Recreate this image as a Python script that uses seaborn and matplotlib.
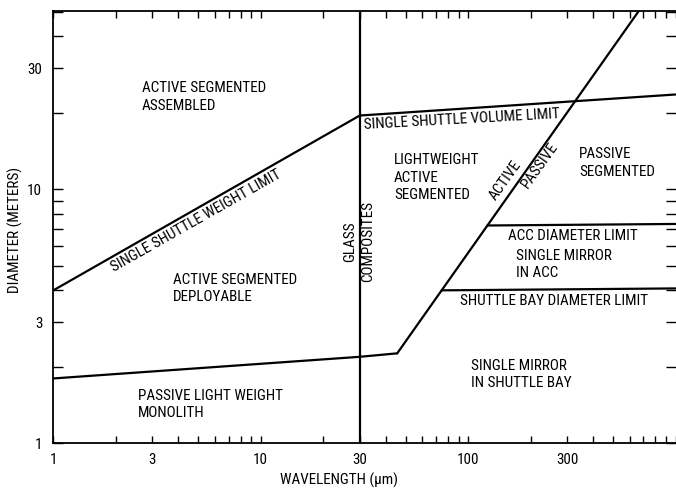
import matplotlib
matplotlib.use("Agg")
import matplotlib.pyplot as plt
import matplotlib.ticker as mticker
from matplotlib import font_manager as fm
import numpy as np
import pandas as pd
import seaborn as sns

# Boundary lines of the mirror-technology regions (wavelength in um, diameter in m)
weight_limit_x = [1, 30]
weight_limit_y = [4.0, 19.5]

volume_limit_x = [30, 1000]
volume_limit_y = [19.5, 23.6]

glass_composites_x = [30, 30]
glass_composites_y = [1, 50.3]

monolith_limit_x = [1, 30, 45.5]
monolith_limit_y = [1.8, 2.19, 2.26]

active_passive_x = [45.5, 690]
active_passive_y = [2.26, 52.5]

acc_limit_x = [124, 1000]
acc_limit_y = [7.2, 7.3]

bay_limit_x = [74.5, 1000]
bay_limit_y = [4.0, 4.07]

x_tick_values = [1, 3, 10, 30, 100, 300]
x_tick_labels = ["1", "3", "10", "30", "100", "300"]
y_tick_values = [1, 3, 10, 30]
y_tick_labels = ["1", "3", "10", "30"]


def pick_font():
    """Prefer a narrow sans face; fall back to a regular one."""
    names = {f.name for f in fm.fontManager.ttflist}
    for cand in ["Liberation Sans Narrow", "Noto Sans Condensed", "Roboto Condensed",
                 "DejaVu Sans Condensed", "Open Sans Condensed"]:
        if cand in names:
            return {"family": cand}
    for fam in ["DejaVu Sans", "Noto Sans", "Open Sans", "Roboto"]:
        path = fm.findfont(fm.FontProperties(family=fam, stretch="condensed"),
                           fallback_to_default=False)
        if "ondensed" in path or "arrow" in path:
            return {"family": fam, "stretch": "condensed"}
    return {"family": "Roboto"}


sns.set_style("ticks")
font = pick_font()
plt.rcParams["font.family"] = [font["family"], "DejaVu Sans"]
if "stretch" in font:
    plt.rcParams["font.stretch"] = font["stretch"]
for key in ["text.color", "axes.labelcolor", "xtick.color", "ytick.color", "axes.edgecolor"]:
    plt.rcParams[key] = "black"

fig = plt.figure(figsize=(6.76, 4.93), dpi=100)
ax = fig.add_axes([0.0789, 0.1008, 0.9204, 0.8769])

# size the lettering so a typical caption has the intended width
probe = fig.text(0, 0, "ACTIVE SEGMENTED", fontsize=10)
fig.canvas.draw()
probe_w = probe.get_window_extent().width
probe.remove()
fs = min(11.0, 10 * 125 / probe_w)

segments = [
    ("weight", weight_limit_x, weight_limit_y),
    ("volume", volume_limit_x, volume_limit_y),
    ("glass", glass_composites_x, glass_composites_y),
    ("monolith", monolith_limit_x, monolith_limit_y),
    ("active_passive", active_passive_x, active_passive_y),
    ("acc", acc_limit_x, acc_limit_y),
    ("bay", bay_limit_x, bay_limit_y),
]
frames = []
for name, xs, ys in segments:
    frames.append(pd.DataFrame({"boundary": name, "wavelength": xs, "diameter": ys}))
df = pd.concat(frames, ignore_index=True)

for name, sub in df.groupby("boundary", sort=False):
    sns.lineplot(data=sub, x="wavelength", y="diameter", sort=False, estimator=None,
                 color="black", linewidth=1.6, ax=ax, legend=False)

ax.set_xscale("log")
ax.set_yscale("log")
ax.set_xlim(1, 1000)
ax.set_ylim(1, 50.3)

ax.xaxis.set_major_locator(mticker.FixedLocator(x_tick_values))
ax.xaxis.set_major_formatter(mticker.FixedFormatter(x_tick_labels))
ax.xaxis.set_minor_locator(mticker.LogLocator(base=10, subs=np.arange(1, 10)))
ax.xaxis.set_minor_formatter(mticker.NullFormatter())
ax.yaxis.set_major_locator(mticker.FixedLocator(y_tick_values))
ax.yaxis.set_major_formatter(mticker.FixedFormatter(y_tick_labels))
ax.yaxis.set_minor_locator(mticker.LogLocator(base=10, subs=np.arange(1, 10)))
ax.yaxis.set_minor_formatter(mticker.NullFormatter())

ax.tick_params(axis="x", which="both", direction="in", top=True, bottom=True,
               length=5, width=1.0, color="black", labelsize=fs, pad=7,
               labelcolor="black")
ax.tick_params(axis="y", which="both", direction="in", left=True, right=True,
               length=7, width=1.0, color="black", labelsize=fs, pad=8,
               labelcolor="black")

for side in ["left", "bottom", "top"]:
    ax.spines[side].set_color("black")
    ax.spines[side].set_linewidth(1.3)
ax.spines["right"].set_visible(False)

ax.set_xlabel("")
ax.set_ylabel("")
fig.text(339 / 676, 1 - 480 / 493, "WAVELENGTH (μm)", ha="center", va="center",
         fontsize=fs)
fig.text(15 / 676, 1 - 230 / 493, "DIAMETER (METERS)", ha="center", va="center",
         rotation=90, fontsize=fs)

block = dict(ha="left", va="center", fontsize=fs, linespacing=1.3)
ax.text(2.67, 23.1, "ACTIVE SEGMENTED\nASSEMBLED", **block)
ax.text(3.79, 4.06, "ACTIVE SEGMENTED\nDEPLOYABLE", **block)
ax.text(2.57, 1.425, "PASSIVE LIGHT WEIGHT\nMONOLITH", **block)
ax.text(43.9, 11.1, "LIGHTWEIGHT\nACTIVE\nSEGMENTED", **block)
ax.text(342, 12.7, "PASSIVE\nSEGMENTED", **block)
ax.text(155.5, 6.57, "ACC DIAMETER LIMIT", **block)
ax.text(171, 5.06, "SINGLE MIRROR\nIN ACC", **block)
ax.text(91.7, 3.64, "SHUTTLE BAY DIAMETER LIMIT", **block)
ax.text(102.8, 1.86, "SINGLE MIRROR\nIN SHUTTLE BAY", **block)

rot = dict(ha="center", va="center", fontsize=fs, rotation_mode="anchor")
ax.text(4.9, 7.5, "SINGLE SHUTTLE WEIGHT LIMIT", rotation=29.5, **rot)
ax.text(93, 18.85, "SINGLE SHUTTLE VOLUME LIMIT", rotation=3.2, **rot)
ax.text(151.6, 10.8, "ACTIVE", rotation=54.6, **rot)
ax.text(221, 12.47, "PASSIVE", rotation=54.6, **rot)
ax.text(26.9, 6.2, "GLASS", rotation=90, **rot)
ax.text(32.8, 6.2, "COMPOSITES", rotation=90, **rot)

fig.savefig("out.png", dpi=100)
